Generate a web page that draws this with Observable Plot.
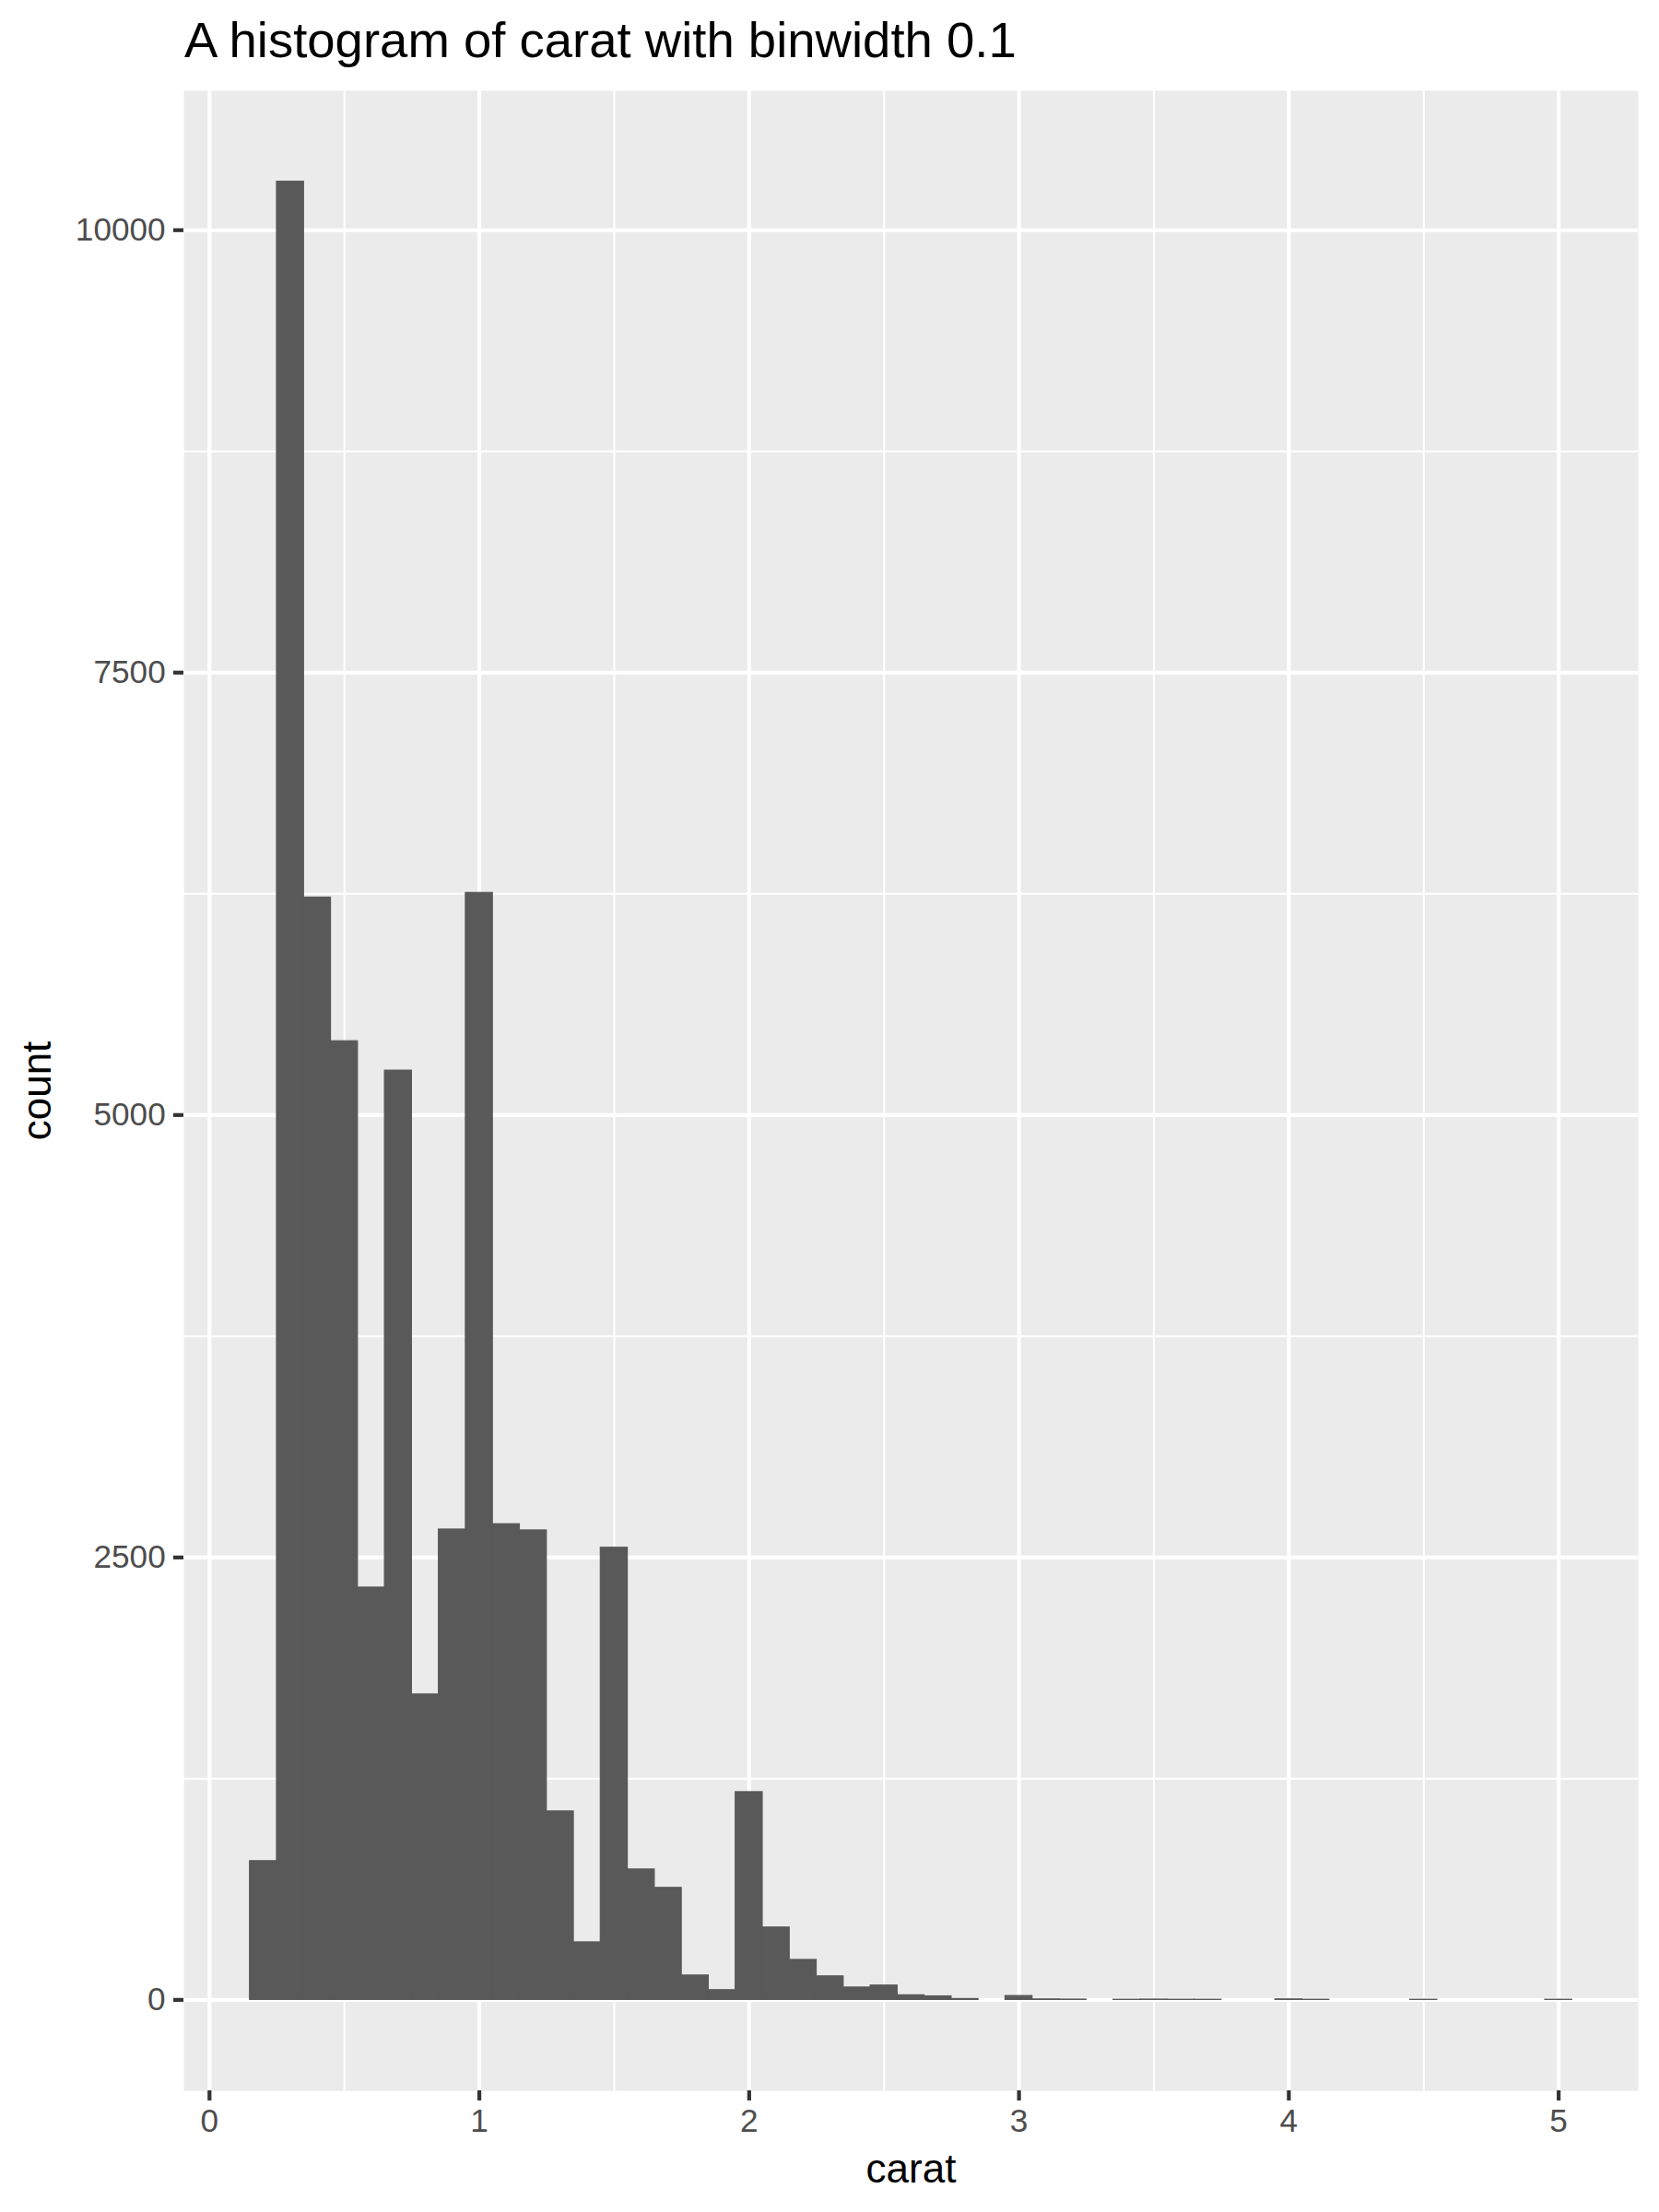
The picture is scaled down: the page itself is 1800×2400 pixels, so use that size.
<!DOCTYPE html>
<html><head><meta charset="utf-8">
<script src="https://cdn.jsdelivr.net/npm/d3@7"></script>
<script src="https://cdn.jsdelivr.net/npm/@observablehq/plot@0.6"></script>
<style>
html,body{margin:0;padding:0;background:#fff;}
#title{box-sizing:border-box;height:72px;padding-top:17px;padding-left:200px;font-family:"Liberation Sans",Arial,Helvetica,sans-serif;font-size:54.5px;line-height:54px;color:#000;white-space:nowrap;}
#chart svg{display:block;}
</style></head><body>
<div id="title"></div>
<div id="chart"></div>
<script>
const titleText = "A histogram of carat with binwidth 0.1";
const xLabel = "carat";
const yLabel = "count";
const binWidth = 0.1;
const binCenters = [0.2,0.3,0.4,0.5,0.6,0.7,0.8,0.9,1.0,1.1,1.2,1.3,1.4,1.5,1.6,1.7,1.8,1.9,2.0,2.1,2.2,2.3,2.4,2.5,2.6,2.7,2.8,3.0,3.1,3.2,3.4,3.5,3.6,3.7,4.0,4.1,4.5,5.0];
const binCounts  = [784,10274,6229,5417,2330,5251,1726,2658,6255,2688,2653,1065,325,2555,737,633,138,55,1174,409,226,133,70,81,26,20,5,22,3,2,1,2,1,1,3,1,1,1];
const xTicks = [0,1,2,3,4,5];
const xMinor = [0.5,1.5,2.5,3.5,4.5];
const yTicks = [0,2500,5000,7500,10000];
const yMinor = [1250,3750,6250,8750];

document.getElementById("title").textContent = titleText;

const data = binCenters.map((c,i)=>({x1: c - binWidth/2, x2: c + binWidth/2, count: binCounts[i]}));
const xmin = d3.min(data, d=>d.x1), xmax = d3.max(data, d=>d.x2);
const xpad = (xmax - xmin) * 0.05;
const ymax = d3.max(binCounts);
const ypad = ymax * 0.05;

const font = '"Liberation Sans", Arial, Helvetica, sans-serif';
const major = 4.2, minor = 2.1;

const chart = Plot.plot({
  width: 1800,
  height: 2328,
  marginTop: 26,
  marginBottom: 132,
  marginLeft: 199,
  marginRight: 23,
  style: {fontFamily: font, background: "white", overflow: "visible"},
  x: {domain: [xmin - xpad, xmax + xpad], axis: null},
  y: {domain: [-ypad, ymax + ypad], axis: null},
  marks: [
    Plot.frame({fill: "#EBEBEB", stroke: null}),
    Plot.gridX(xMinor, {stroke: "white", strokeOpacity: 1, strokeWidth: minor}),
    Plot.gridY(yMinor, {stroke: "white", strokeOpacity: 1, strokeWidth: minor}),
    Plot.gridX(xTicks, {stroke: "white", strokeOpacity: 1, strokeWidth: major}),
    Plot.gridY(yTicks, {stroke: "white", strokeOpacity: 1, strokeWidth: major}),
    Plot.rectY(data, {x1: "x1", x2: "x2", y1: 0, y2: "count", fill: "#595959", stroke: "#595959", strokeWidth: 1.2, inset: 0}),
    Plot.axisX(xTicks, {tickSize: 11, tickPadding: 8.8, fontSize: 35.2, stroke: "#333333", strokeWidth: major, fill: "#4D4D4D", label: null, tickFormat: d => String(d)}),
    Plot.axisY(yTicks, {tickSize: 11, tickPadding: 8.8, fontSize: 35.2, stroke: "#333333", strokeWidth: major, fill: "#4D4D4D", label: null, tickFormat: d => String(d)}),
    Plot.text([xLabel], {frameAnchor: "bottom", textAnchor: "middle", dy: 99, lineAnchor: "bottom", fontSize: 44, fill: "black"}),
    Plot.text([yLabel], {frameAnchor: "left", textAnchor: "middle", dx: -145, rotate: -90, lineAnchor: "bottom", fontSize: 44, fill: "black"})
  ]
});
document.getElementById("chart").appendChild(chart);
</script>
</body></html>
